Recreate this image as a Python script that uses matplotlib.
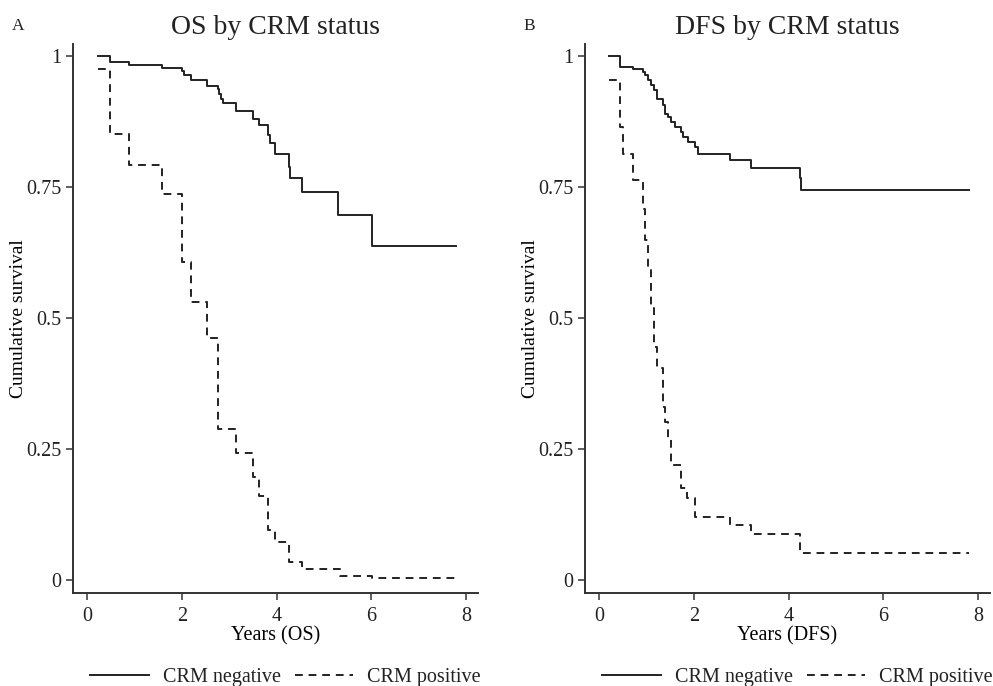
import matplotlib
matplotlib.use('Agg')
import matplotlib.pyplot as plt

# Kaplan-Meier style step curves (time in years, survival after step)
os_neg_time = [0.24, 0.49, 0.89, 1.59, 2.01, 2.05, 2.20, 2.54, 2.77, 2.79, 2.82, 2.86,
               3.14, 3.51, 3.62, 3.81, 3.85, 3.97, 4.26, 4.29, 4.53, 5.30, 6.02, 7.78]
os_neg_surv = [1.0, 0.989, 0.983, 0.978, 0.972, 0.964, 0.954, 0.944, 0.937, 0.928, 0.918, 0.910,
               0.896, 0.881, 0.868, 0.849, 0.834, 0.814, 0.789, 0.767, 0.741, 0.697, 0.638, 0.638]

os_pos_time = [0.24, 0.49, 0.89, 1.59, 2.01, 2.20, 2.54, 2.77, 3.14, 3.51, 3.62, 3.81,
               3.97, 4.26, 4.53, 5.33, 6.02, 7.78]
os_pos_surv = [0.975, 0.851, 0.793, 0.736, 0.607, 0.531, 0.461, 0.289, 0.242, 0.197, 0.161, 0.095,
               0.072, 0.035, 0.020, 0.008, 0.003, 0.003]

dfs_neg_time = [0.22, 0.45, 0.73, 0.94, 0.98, 1.04, 1.11, 1.17, 1.22, 1.36, 1.39, 1.46,
                1.53, 1.60, 1.73, 1.77, 1.88, 2.02, 2.10, 2.77, 3.21, 4.24, 4.27, 7.81]
dfs_neg_surv = [1.0, 0.980, 0.975, 0.970, 0.964, 0.955, 0.945, 0.936, 0.919, 0.906, 0.890, 0.883,
                0.874, 0.864, 0.855, 0.845, 0.836, 0.826, 0.813, 0.802, 0.786, 0.767, 0.744, 0.744]

dfs_pos_time = [0.22, 0.45, 0.50, 0.73, 0.94, 0.98, 1.04, 1.11, 1.17, 1.22, 1.36, 1.39,
                1.46, 1.53, 1.73, 1.86, 2.02, 2.77, 3.21, 4.24, 7.81]
dfs_pos_surv = [0.955, 0.865, 0.814, 0.763, 0.709, 0.649, 0.592, 0.520, 0.445, 0.404, 0.331, 0.302,
                0.270, 0.219, 0.175, 0.156, 0.121, 0.105, 0.088, 0.052, 0.052]

x_ticks = [0, 2, 4, 6, 8]
y_ticks = [0, 0.25, 0.5, 0.75, 1]
y_tick_labels = ['0', '0.25', '0.5', '0.75', '1']
series_labels = ['CRM negative', 'CRM positive']

plt.rcParams['font.family'] = ['Liberation Serif', 'DejaVu Serif']
plt.rcParams['text.color'] = '#222222'

fig = plt.figure(figsize=(9.93, 6.86), dpi=100)
ax_a = fig.add_axes([0.0735, 0.1356, 0.408, 0.800])
ax_b = fig.add_axes([0.589, 0.1356, 0.408, 0.800])


def draw_panel(ax, neg_t, neg_s, pos_t, pos_s, title, xlabel, letter, letter_x):
    ax.step(neg_t, neg_s, where='post', color='#222222', linewidth=1.4, label=series_labels[0])
    ax.step(pos_t, pos_s, where='post', color='#222222', linewidth=1.4,
            linestyle=(0, (4, 3)), label=series_labels[1])
    ax.set_xlim(-0.295, 8.25)
    ax.set_ylim(-0.025, 1.023)
    ax.set_xticks(x_ticks)
    ax.set_yticks(y_ticks)
    ax.set_yticklabels(y_tick_labels)
    ax.tick_params(axis='both', direction='out', length=5, width=1.1, labelsize=14.5,
                   color='#333333', labelcolor='#222222')
    ax.tick_params(axis='x', pad=5)
    for side in ['top', 'right']:
        ax.spines[side].set_visible(False)
    for side in ['left', 'bottom']:
        ax.spines[side].set_linewidth(1.4)
        ax.spines[side].set_color('#333333')
    ax.set_xlabel(xlabel, fontsize=14.5, labelpad=0.5)
    ax.set_ylabel('Cumulative survival', fontsize=14, labelpad=-1)
    ax.set_title(title, fontsize=20, pad=7)
    fig.text(letter_x, 0.962, letter, fontsize=12.5, ha='left', va='center')
    ax.legend(loc='upper center', bbox_to_anchor=(0.525, -0.103), ncol=2, frameon=False,
              fontsize=14.5, handlelength=2.9, columnspacing=0.7, handletextpad=0.7)


draw_panel(ax_a, os_neg_time, os_neg_surv, os_pos_time, os_pos_surv,
           'OS by CRM status', 'Years (OS)', 'A', 0.012)
draw_panel(ax_b, dfs_neg_time, dfs_neg_surv, dfs_pos_time, dfs_pos_surv,
           'DFS by CRM status', 'Years (DFS)', 'B', 0.527)

fig.savefig('out.png', dpi=100)
plt.close(fig)
